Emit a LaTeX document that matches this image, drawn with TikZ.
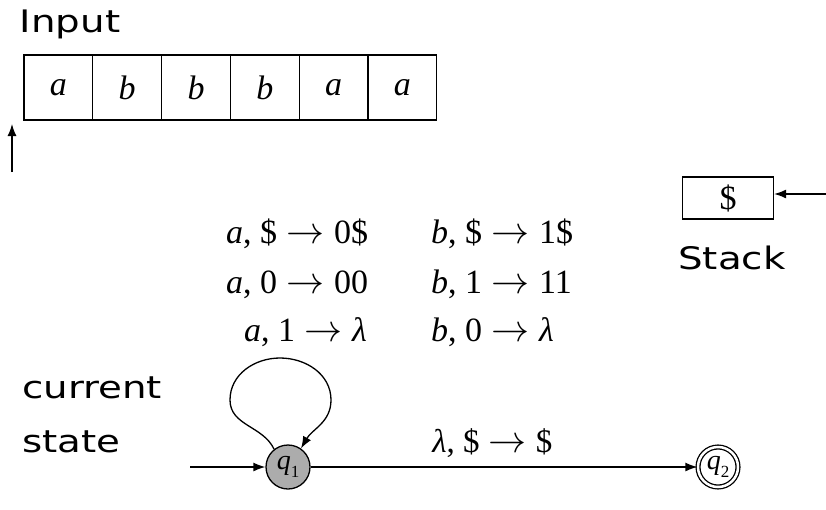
\documentclass[tikz,border=0pt]{standalone}
\usepackage{graphicx}
\usepackage{fontspec}
\usetikzlibrary{arrows.meta}
\newfontfamily\handfont[FakeStretch=1.25]{DejaVu Sans}
\newfontfamily\rulefont{Liberation Serif}
\newcommand{\sub}[1]{\raisebox{-0.28em}{\fontsize{17}{18}\selectfont #1}}
\newcommand{\goes}{\;\resizebox{38pt}{!}{$\rightarrow$}\;}
\tikzset{
  word/.style={font=\handfont\fontsize{31}{36}\selectfont, inner sep=0pt},
  cell/.style={draw, line width=1.2pt, minimum width=68.8pt, minimum height=65pt, inner sep=0pt,
               font=\rulefont\fontsize{34}{38}\selectfont},
  rule/.style={anchor=base west, inner sep=0pt, font=\rulefont\fontsize{34}{38}\selectfont},
  state/.style={circle, draw, line width=1.3pt, minimum size=44pt, inner sep=0pt,
                font=\rulefont\fontsize{28}{30}\selectfont},
  pointer/.style={line width=1.3pt, -{Latex[length=12pt,width=9pt]}},
}

\begin{document}
\begin{tikzpicture}[x=1pt,y=-1pt]
        \useasboundingbox (0,0) rectangle (826,509);

        % input tape
        \node[word] (input) at (70,24) {Input};
        \foreach \l [count=\i] in {a,b,b,b,a,a}{
          \node[cell] (c\i) at (24+68.8*\i-34.4,87.5) {\textit{\l}};
        }
        % read head
        \coordinate (headfoot) at (12,172);
        \coordinate (headtip) at (12,124);
        \draw[pointer] (headfoot) -- (headtip);

        % stack
        \node[cell, minimum width=91pt, minimum height=42pt] (stack) at (728,198) {\$};
        \node[word] (stacklabel) at (732,258) {Stack};
        \coordinate (stackin) at (826,194);
        \draw[pointer] (stackin) -- (stack.east |- stackin);

        % transitions of the loop
        \node[rule] (r1) at (226,243) {\textit{a}, \$\goes0\$};
        \node[rule] (r2) at (226,293) {\textit{a}, 0\goes00};
        \node[rule] (r3) at (244,341) {\textit{a}, 1\goes\textit{λ}};
        \node[rule] (r4) at (431,243) {\textit{b}, \$\goes1\$};
        \node[rule] (r5) at (431,293) {\textit{b}, 1\goes11};
        \node[rule] (r6) at (431,341) {\textit{b}, 0\goes\textit{λ}};

        % states
        \node[word, anchor=west] (current) at (22,388) {current};
        \node[word, anchor=west] (curstate) at (22,442) {state};
        \node[state, fill=gray!65] (q1) at (288,467) {\textit{q}\sub{1}};
        \node[state, double, double distance=2.5pt, minimum size=40pt] (q2) at (718,467) {\textit{q}\sub{2}};

        \coordinate (start) at (190,467);
        \draw[pointer] (start) -- (q1);
        \draw[pointer] (q1.128) to[out=115,in=270] (230,400)
                       to[out=90,in=180] (280,358)
                       to[out=0,in=90] (331,400)
                       to[out=270,in=60] (q1.55);
        \draw[pointer] (q1) -- node[above=5pt, pos=0.47, font=\rulefont\fontsize{33}{36}\selectfont]
                       {\textit{λ}, \$\goes\$} (q2);
\end{tikzpicture}
\end{document}
